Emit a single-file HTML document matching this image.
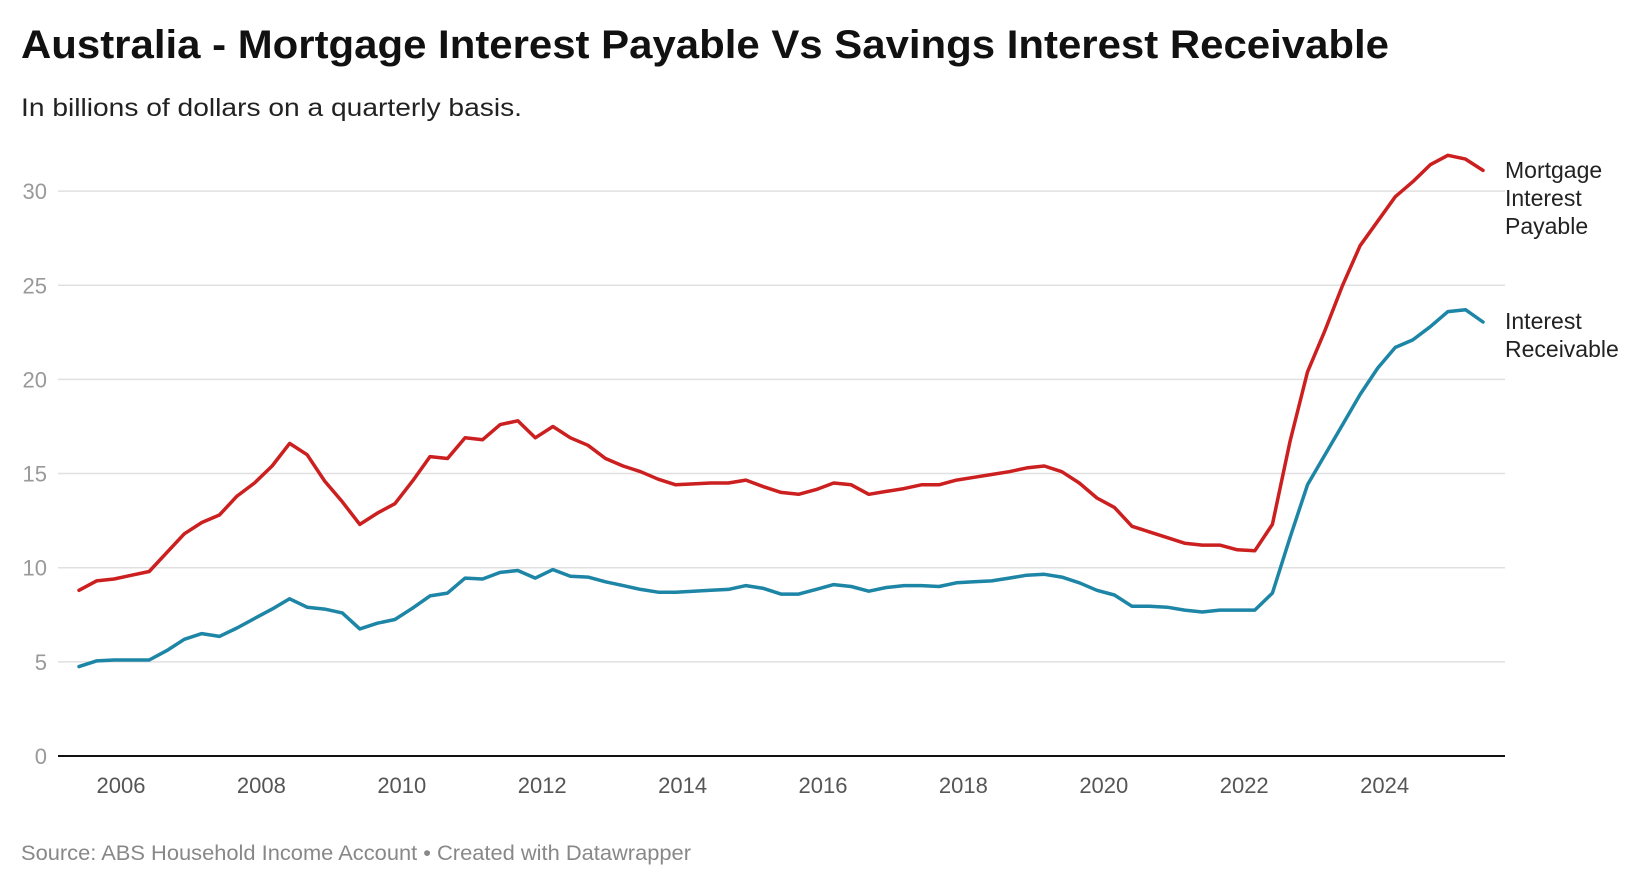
<!DOCTYPE html>
<html><head><meta charset="utf-8"><style>
body{margin:0;background:#fff;font-family:"Liberation Sans",Arial,sans-serif;}
svg text{font-family:"Liberation Sans",Arial,sans-serif;}
</style></head><body>
<svg id="chart" width="1640" height="882" viewBox="0 0 1640 882">
<text x="21" y="58" font-size="40" font-weight="bold" fill="#111" textLength="1368" lengthAdjust="spacingAndGlyphs">Australia - Mortgage Interest Payable Vs Savings Interest Receivable</text>
<text x="21" y="116" font-size="25" fill="#222" textLength="501" lengthAdjust="spacingAndGlyphs">In billions of dollars on a quarterly basis.</text>
<g id="grid"></g><g id="xaxis"></g><g id="lines"></g>
<text x="21" y="860" font-size="21" fill="#888" textLength="670" lengthAdjust="spacingAndGlyphs">Source: ABS Household Income Account • Created with Datawrapper</text>
</svg>
<script>
const startYear = 2005.5;
const mortgage = [8.8,9.3,9.4,9.6,9.8,10.8,11.8,12.4,12.8,13.8,14.5,15.4,16.6,16.0,14.6,13.5,12.3,12.9,13.4,14.6,15.9,15.8,16.9,16.8,17.6,17.8,16.9,17.5,16.9,16.5,15.8,15.4,15.1,14.7,14.4,14.45,14.5,14.5,14.65,14.3,14.0,13.9,14.15,14.5,14.4,13.9,14.05,14.2,14.4,14.4,14.65,14.8,14.95,15.1,15.3,15.4,15.1,14.5,13.7,13.2,12.2,11.9,11.6,11.3,11.2,11.2,10.95,10.9,12.3,16.7,20.4,22.6,25.0,27.1,28.4,29.7,30.5,31.4,31.9,31.7,31.1];
const receivable = [4.75,5.05,5.1,5.1,5.1,5.6,6.2,6.5,6.35,6.8,7.3,7.8,8.35,7.9,7.8,7.6,6.75,7.05,7.25,7.85,8.5,8.65,9.45,9.4,9.75,9.85,9.45,9.9,9.55,9.5,9.25,9.05,8.85,8.7,8.7,8.75,8.8,8.85,9.05,8.9,8.6,8.6,8.85,9.1,9.0,8.75,8.95,9.05,9.05,9.0,9.2,9.25,9.3,9.45,9.6,9.65,9.5,9.2,8.8,8.55,7.95,7.95,7.9,7.75,7.65,7.75,7.75,7.75,8.65,11.6,14.4,16.0,17.6,19.2,20.6,21.7,22.1,22.8,23.6,23.7,23.05];
const yTicks = [0,5,10,15,20,25,30];
const xTicks = [2006,2008,2010,2012,2014,2016,2018,2020,2022,2024];
const NS='http://www.w3.org/2000/svg';
const L=58,R=1505;
const y=v=>756-v*18.83;
const xYear=yr=>121+(yr-2006)*70.2;
const xi=i=>xYear(startYear+i*0.25)-xYear(startYear)+79;
function mk(tag,attrs,parent){const e=document.createElementNS(NS,tag);for(const k in attrs)e.setAttribute(k,attrs[k]);parent.appendChild(e);return e;}
const grid=document.getElementById('grid');
yTicks.forEach(t=>{
  if(t>0){const ln=mk('line',{x1:L,x2:R,y1:y(t),y2:y(t),stroke:'#e0e0e0','stroke-width':1.5},grid);
  
  }
  const tx=mk('text',{x:47,y:y(t)+8,'font-size':22,fill:'#999','text-anchor':'end'},grid);tx.textContent=t;
  
  
});
const xa=document.getElementById('xaxis');
const base=mk('line',{x1:L,x2:R,y1:y(0),y2:y(0),stroke:'#111','stroke-width':2},xa);


xTicks.forEach(t=>{const tx=mk('text',{x:xYear(t),y:793,'font-size':22,fill:'#555','text-anchor':'middle'},xa);tx.textContent=t;
  
  });
const lg=document.getElementById('lines');
function series(data,color,name){
  const d=data.map((v,i)=>(i?'L':'M')+xi(i).toFixed(1)+','+y(v).toFixed(1)).join(' ');
  const p=mk('path',{d:d,fill:'none',stroke:color,'stroke-width':3.5,'stroke-linejoin':'round','stroke-linecap':'round'},lg);
  
  
}
series(receivable,'#1d85a6','receivable-line');
series(mortgage,'#cc1f1f','mortgage-line');
function label(lines,y0,name){
  const t=mk('text',{x:R,y:y0,'font-size':23,fill:'#222'},lg);
  
  
  lines.forEach((s,i)=>{const ts=mk('tspan',{x:R,dy:i?28:0},t);ts.textContent=s;});
}
label(['Mortgage','Interest','Payable'],178,'mortgage-label');
label(['Interest','Receivable'],329,'receivable-label');
</script>
</body></html>
